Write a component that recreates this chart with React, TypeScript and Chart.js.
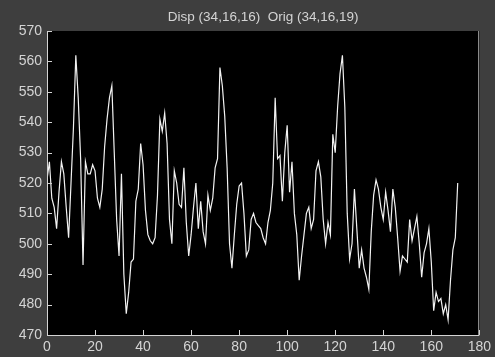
import React, { useEffect, useRef } from "react";
import { Chart, registerables } from "chart.js";

Chart.register(...registerables);

const TITLE = "Disp (34,16,16)  Orig (34,16,19)";
const X_MIN = 0;
const X_MAX = 180;
const X_STEP = 20;
const Y_MIN = 470;
const Y_MAX = 570;
const Y_STEP = 10;

// sample values, index 0..171
const values: number[] = [
  521, 527, 515, 512, 505, 517, 527, 523, 512, 502,
  520, 538, 562, 548, 528, 493, 527, 523, 523, 526,
  524, 515, 512, 518, 532, 541, 548, 552, 530, 508,
  496, 523, 490, 477, 484, 494, 495, 514, 518, 533,
  526, 511, 503, 501, 500, 502, 516, 541, 537, 543,
  533, 508, 500, 524, 520, 513, 512, 525, 507, 496,
  503, 512, 520, 505, 514, 504, 500, 516, 511, 515,
  525, 528, 558, 552, 542, 525, 500, 492, 503, 513,
  519, 520, 510, 496, 498, 508, 510, 507, 506, 505,
  502, 500, 507, 511, 520, 548, 528, 529, 514, 530,
  539, 517, 527, 510, 503, 488, 496, 503, 510, 512,
  505, 508, 524, 527, 522, 508, 500, 507, 503, 536,
  530, 545, 556, 562, 545, 510, 495, 500, 518, 505,
  492, 498, 492, 489, 485, 504, 516, 521, 518, 512,
  508, 517, 511, 504, 518, 512, 502, 491, 496, 495,
  494, 508, 501, 505, 509, 500, 489, 497, 500, 505,
  494, 478, 484, 481, 482, 477, 480, 475, 488, 498,
  502, 520,
];

const BG = "#3e3e3e";
const AXIS = "#d4d4d4";
const FONT = "'Liberation Sans', Arial, sans-serif";

const matlabPlugin = {
  id: "matlabLook",
  beforeDraw(chart: any) {
    const { ctx, chartArea, width, height } = chart;
    ctx.save();
    ctx.fillStyle = BG;
    ctx.fillRect(0, 0, width, height);
    ctx.fillStyle = "#000";
    ctx.fillRect(chartArea.left, chartArea.top, chartArea.right - chartArea.left, chartArea.bottom - chartArea.top);
    ctx.restore();
  },
  afterDatasetsDraw(chart: any) {
    const { ctx, chartArea } = chart;
    const xs = chart.scales.x;
    const ys = chart.scales.y;
    const L = chartArea.left, R = chartArea.right, T = chartArea.top, B = chartArea.bottom;
    ctx.save();
    ctx.lineWidth = 1;
    ctx.strokeStyle = "#8a8a8a";
    ctx.beginPath();
    ctx.moveTo(Math.round(R) - 0.5, T);
    ctx.lineTo(Math.round(R) - 0.5, B);
    ctx.stroke();
    ctx.strokeStyle = AXIS;
    ctx.beginPath();
    ctx.moveTo(Math.round(L) + 0.5, T);
    ctx.lineTo(Math.round(L) + 0.5, B + 0.5);
    ctx.lineTo(R, B + 0.5);
    ctx.stroke();
    ctx.beginPath();
    for (const t of xs.ticks) {
      const px = Math.round(xs.getPixelForValue(t.value)) + 0.5;
      ctx.moveTo(px, B);
      ctx.lineTo(px, B - 5);
    }
    for (const t of ys.ticks) {
      const py = Math.round(ys.getPixelForValue(t.value)) + 0.5;
      ctx.moveTo(L, py);
      ctx.lineTo(L + 5, py);
    }
    ctx.stroke();
    ctx.fillStyle = AXIS;
    ctx.font = `13.5px ${FONT}`;
    ctx.textAlign = "center";
    ctx.textBaseline = "middle";
    ctx.fillText(TITLE, (L + R) / 2, 17);
    ctx.restore();
  },
};

export default function App() {
  const ref = useRef<HTMLCanvasElement | null>(null);
  useEffect(() => {
    document.body.style.margin = "0";
    const canvas = ref.current;
    if (!canvas) return;
    const chart = new Chart(canvas, {
      type: "line",
      data: {
        datasets: [
          {
            data: values.map((v, i) => ({ x: X_MIN + i, y: v })),
            borderColor: "#f2f2f2",
            borderWidth: 1.2,
            pointRadius: 0,
            tension: 0,
            fill: false,
          },
        ],
      },
      plugins: [matlabPlugin],
      options: {
        animation: false,
        responsive: false,
        devicePixelRatio: 1,
        layout: { padding: { left: 0, right: 12, top: 31, bottom: 0 } },
        plugins: { legend: { display: false }, tooltip: { enabled: false }, title: { display: false } },
        scales: {
          x: {
            type: "linear",
            min: X_MIN,
            max: X_MAX,
            ticks: { stepSize: X_STEP, color: AXIS, font: { family: FONT, size: 14 }, padding: 4, maxRotation: 0, autoSkip: false },
            grid: { display: false, drawTicks: false },
            border: { display: false },
            afterFit: (s: any) => { s.height = 22; },
          },
          y: {
            type: "linear",
            min: Y_MIN,
            max: Y_MAX,
            ticks: { stepSize: Y_STEP, color: AXIS, font: { family: FONT, size: 14 }, padding: 5 },
            grid: { display: false, drawTicks: false },
            border: { display: false },
            afterFit: (s: any) => { s.width = 47; },
          },
        },
      },
    });
    return () => chart.destroy();
  }, []);
  return (
    <div style={{ position: "fixed", left: 0, top: 0, width: 495, height: 357, background: BG }}>
      <canvas ref={ref} width={495} height={357} style={{ display: "block" }} />
    </div>
  );
}
